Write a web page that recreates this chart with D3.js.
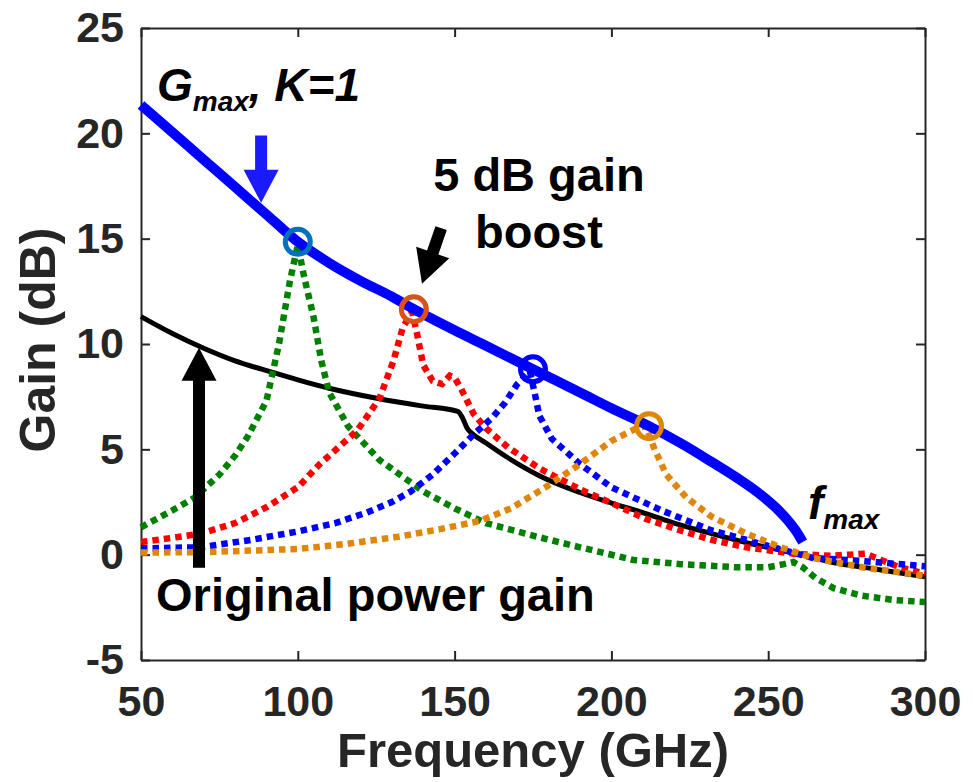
<!DOCTYPE html>
<html>
<head>
<meta charset="utf-8">
<style>
  body { margin: 0; background: #fff; }
  svg text { font-family: "Liberation Sans", Arial, sans-serif; font-weight: bold; }
</style>
</head>
<body>
<div id="chart"></div>
<script src="https://d3js.org/d3.v7.min.js"></script>
<script>
// ---- data (frequency GHz, gain dB) ----
gmax = [[50,21.35],[60,20.05],[70,18.75],[80,17.45],[90,16.15],[100,14.85],[110,13.85],[120,13.0],[130,12.25],
  [137,11.65],[150,10.65],[160,9.92],[175,8.8],[190,7.7],[200,6.95],[212,6.1],[222,5.3],[232,4.4],[240,3.65],
  [248,2.8],[253,2.15],[257,1.5],[259,1.1],[261,0.6]]

original = [[50,11.3],[60,10.5],[70,9.8],[80,9.2],[92,8.65],[100,8.3],[110,7.9],[126,7.4],[140,7.05],[151,6.8],
  [152.5,6.5],[154,6.0],[156,5.7],[160,5.3],[167,4.6],[177,3.75],[190,2.95],[200,2.45],[211,1.95],[220,1.5],
  [232,1.0],[245,0.5],[259,0.05],[270,-0.35],[285,-0.7],[300,-1.05]]

boost100 = [[50,1.3],[55,1.7],[60,2.1],[67,2.7],[75,3.8],[80,4.7],[84,5.6],[90,7.3],[94,10.0],[97.5,13.0],[100,14.7],
  [102,13.2],[105,11.3],[107.5,9.2],[110,7.7],[116,6.1],[126,4.5],[140,3.0],[150,2.2],[160,1.5],[175,0.9],[190,0.35],
  [207,-0.25],[222,-0.45],[240,-0.6],[250,-0.6],[255,-0.45],[258,-0.35],[261,-0.6],[265,-1.1],[271,-1.6],[280,-1.95],
  [290,-2.15],[300,-2.25]]

boost137 = [[50,0.6],[60,0.8],[69,1.0],[80,1.5],[90,2.25],[100,3.2],[107,4.3],[113,5.1],[119,5.9],[126,7.4],[130.5,9.2],
  [133.5,10.8],[136.5,11.5],[138,10.5],[140,9.0],[143,8.25],[146,8.1],[148.5,8.5],[150,8.4],[152,7.9],[156,6.7],
  [160,6.0],[167,5.1],[177,4.1],[190,3.1],[200,2.45],[211,1.7],[222,1.15],[232,0.7],[243,0.35],[259,0.03],[270,-0.05],
  [276,0.0],[281,0.05],[286,-0.25],[292,-0.6],[300,-0.9]]

boost175 = [[50,0.3],[69,0.35],[85,0.7],[100,1.1],[112,1.5],[122,2.0],[130,2.5],[136,3.0],[143,3.8],[150,4.8],
  [156,5.7],[162,6.5],[166,7.2],[170,8.1],[174,8.7],[175.5,7.7],[177,6.6],[181,5.5],[190,4.3],[200,3.2],[216,2.1],
  [232,1.15],[248,0.5],[264,-0.15],[280,-0.3],[300,-0.55]]

boost212 = [[50,0.1],[70,0.12],[100,0.27],[115,0.5],[132,0.85],[145,1.2],[158,1.6],[168,2.2],[179,3.2],[190,4.3],
  [200,5.4],[208,6.0],[211,6.1],[213.5,5.1],[217.5,3.8],[224,2.7],[232,1.8],[243,1.0],[254,0.35],[264,-0.15],
  [280,-0.6],[300,-1.0]]

peaks = [[100,14.85],[137,11.65],[175,8.8],[212,6.1]]
peakColors = ["#0072BD","#D95319","#0000FF","#E0860B"]

xTicks = [50,100,150,200,250,300]
yTicks = [-5,0,5,10,15,20,25]

width = 973
height = 782
margin = ({top: 28, right: 48, bottom: 122, left: 141})

x = d3.scaleLinear().domain([50, 300]).range([margin.left, width - margin.right])
y = d3.scaleLinear().domain([-5, 25]).range([height - margin.bottom, margin.top])

svg = d3.select("#chart").append("svg")
    .attr("width", width)
    .attr("height", height)

axisColor = "#262626"

// box with inward ticks, MATLAB style
svg.append("g")
    .attr("transform", `translate(0,${y(-5)})`)
    .call(d3.axisBottom(x).tickValues(xTicks).tickSizeInner(-9).tickSizeOuter(0).tickFormat(d => String(d)))
    .call(g => g.selectAll("text").attr("font-size", 43).attr("fill", axisColor).attr("dy", null).attr("y", 56))
svg.append("g")
    .attr("transform", `translate(0,${y(25)})`)
    .call(d3.axisTop(x).tickValues(xTicks).tickSizeInner(-9).tickSizeOuter(0).tickFormat(""))
svg.append("g")
    .attr("transform", `translate(${x(50)},0)`)
    .call(d3.axisLeft(y).tickValues(yTicks).tickSizeInner(-9).tickSizeOuter(0).tickFormat(d => String(d)))
    .call(g => g.selectAll("text").attr("font-size", 43).attr("fill", axisColor).attr("x", -17))
svg.append("g")
    .attr("transform", `translate(${x(300)},0)`)
    .call(d3.axisRight(y).tickValues(yTicks).tickSizeInner(-9).tickSizeOuter(0).tickFormat(""))

svg.selectAll(".domain").attr("stroke", axisColor).attr("stroke-width", 2)
svg.selectAll(".tick line").attr("stroke", axisColor).attr("stroke-width", 2)

svg.append("text")
    .attr("x", (x(50) + x(300)) / 2)
    .attr("y", 767)
    .attr("text-anchor", "middle")
    .attr("font-size", 49)
    .attr("fill", axisColor)
    .text("Frequency (GHz)")

svg.append("text")
    .attr("transform", `translate(55,340) rotate(-90)`)
    .attr("text-anchor", "middle")
    .attr("font-size", 50)
    .attr("fill", axisColor)
    .text("Gain (dB)")

line = d3.line().x(d => x(d[0])).y(d => y(d[1]))
smooth = d3.line().x(d => x(d[0])).y(d => y(d[1])).curve(d3.curveMonotoneX)

plot = svg.append("g")

plot.append("path").datum(original)
    .attr("fill", "none").attr("stroke", "#000").attr("stroke-width", 5)
    .attr("stroke-linejoin", "round")
    .attr("d", smooth)

dotted = [[boost100, "#008000"], [boost137, "#FF0000"], [boost175, "#0000FF"], [boost212, "#E0860B"]]
dotted.forEach(([data, color]) => {
  plot.append("path").datum(data)
      .attr("fill", "none").attr("stroke", color).attr("stroke-width", 6.5)
      .attr("stroke-dasharray", "6.5,5")
      .attr("d", line)
})

plot.append("path").datum(gmax)
    .attr("fill", "none").attr("stroke", "#0000FF").attr("stroke-width", 10)
    .attr("d", smooth)

plot.selectAll("circle.peak").data(peaks).join("circle")
    .attr("class", "peak")
    .attr("cx", d => x(d[0]))
    .attr("cy", d => y(d[1]))
    .attr("r", 12.5)
    .attr("fill", "none")
    .attr("stroke", (d, i) => peakColors[i])
    .attr("stroke-width", 5)

// block arrows
function arrow(tail, tip, color) {
  const x1 = x(tail[0]), y1 = y(tail[1]), x2 = x(tip[0]), y2 = y(tip[1])
  const len = Math.hypot(x2 - x1, y2 - y1)
  const ux = (x2 - x1) / len, uy = (y2 - y1) / len
  const px = -uy, py = ux
  const sw = 6, hw = 17.5, hl = 33
  const bx = x2 - ux * hl, by = y2 - uy * hl
  const pts = [
    [x1 + px * sw, y1 + py * sw], [bx + px * sw, by + py * sw], [bx + px * hw, by + py * hw],
    [x2, y2],
    [bx - px * hw, by - py * hw], [bx - px * sw, by - py * sw], [x1 - px * sw, y1 - py * sw]
  ]
  svg.append("polygon").attr("points", pts.map(p => p.join(",")).join(" ")).attr("fill", color)
}
arrow([88.3, 19.9], [88.3, 16.7], "#1A1AFF")
arrow([145.7, 15.5], [139.6, 12.86], "#000")
arrow([68.5, -0.62], [68.5, 9.82], "#000")

// labels
gm = svg.append("text").attr("x", x(55.1)).attr("y", y(21.55))
    .attr("font-size", 46).attr("font-style", "italic").attr("fill", "#000")
gm.append("tspan").text("G")
gm.append("tspan").attr("font-size", 28).attr("dy", 10).text("max")
gm.append("tspan").attr("dy", -10).text(", K=1")

fm = svg.append("text").attr("x", x(262.7)).attr("y", y(1.7))
    .attr("font-size", 46).attr("font-style", "italic").attr("fill", "#000")
fm.append("tspan").text("f")
fm.append("tspan").attr("font-size", 28).attr("dy", 10).text("max")

svg.append("text").attr("x", x(176.9)).attr("y", y(17.28))
    .attr("text-anchor", "middle").attr("font-size", 47).text("5 dB gain")
svg.append("text").attr("x", x(176.9)).attr("y", y(14.57))
    .attr("text-anchor", "middle").attr("font-size", 47).text("boost")
svg.append("text").attr("x", x(54.8)).attr("y", y(-2.66))
    .attr("font-size", 47).text("Original power gain")
</script>
</body>
</html>
